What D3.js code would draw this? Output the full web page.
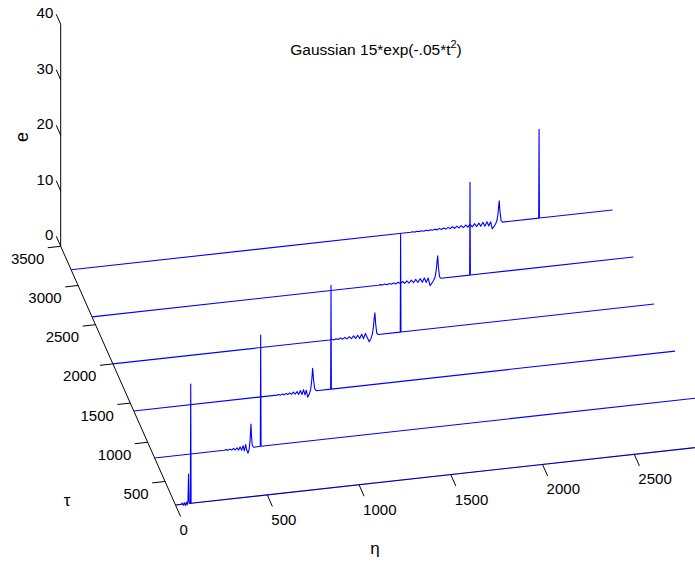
<!DOCTYPE html>
<html>
<head>
<meta charset="utf-8">
<script src="https://cdn.jsdelivr.net/npm/d3@7"></script>
<style>
  html, body { margin: 0; padding: 0; background: #fff; }
  text { font-family: "Liberation Sans", Arial, Helvetica, sans-serif; fill: #000; }
</style>
</head>
<body>
<svg id="chart" width="695" height="561"></svg>
<script>
// ---------------- data ----------------
const tauValues = [200, 800, 1400, 2000, 2600, 3200];
const etaTicks = [0, 500, 1000, 1500, 2000, 2500];
const tauTicks = [500, 1000, 1500, 2000, 2500, 3000, 3500];
const eTicks = [0, 10, 20, 30, 40];
const titleMain = "Gaussian 15*exp(-.05*t";
const titleSup = "2";
const titleEnd = ")";

const eta200 = [0, 30, 36, 42, 48, 54, 60, 64, 68, 71, 74, 78, 81, 83, 85, 2950];
const e200   = [0, 0, 0.2, -0.2, 0.25, -0.3, 0.3, -0.2, 0.5, 5.3, 0.3, 0, 0, 21.5, 0, 0];

const eta800 = [0, 380, 390, 400, 410, 420, 430, 440, 449, 458, 466, 474, 482, 489, 496, 502, 509, 515, 520, 523, 525, 528, 532, 540, 576, 578, 580, 2950];
const e800   = [0, 0, 0.08, -0.08, 0.1, -0.12, 0.15, -0.18, 0.2, -0.25, 0.3, -0.35, 0.45, -0.5, 0.6, -0.4, -1.0, -0.3, 1.2, 3.0, 4.2, 2.0, 0.3, -0.05, 0, 20.05, 0, 0];

const eta1400 = [0, 780, 790, 800, 810, 820, 830, 840, 850, 860, 870, 880, 890, 899, 908, 917, 925, 933, 940, 948, 956, 964, 970, 975, 980, 986, 995, 1073, 1075, 1077, 2950];
const e1400   = [0, 0, 0.08, -0.08, 0.1, -0.1, 0.12, -0.12, 0.15, -0.15, 0.2, -0.2, 0.25, -0.3, 0.35, -0.4, 0.45, -0.5, 0.3, -1.0, -0.5, 0.3, 2.0, 4.1, 2.0, 0.4, 0, 0, 18.7, 0, 0];

const eta2000 = [0, 1180, 1192, 1204, 1216, 1228, 1240, 1252, 1264, 1276, 1288, 1300, 1312, 1323, 1334, 1345, 1356, 1366, 1376, 1386, 1397, 1406, 1414, 1420, 1424, 1428, 1432, 1438, 1446, 1566, 1568, 1570, 2950];
const e2000   = [0, 0, 0.08, -0.08, 0.1, -0.1, 0.12, -0.12, 0.15, -0.15, 0.2, -0.2, 0.25, -0.25, 0.3, -0.35, 0.4, -0.45, 0.45, -0.3, -1.1, -0.6, 0.2, 1.5, 3.0, 4.0, 2.0, 0.3, 0, 0, 17.6, 0, 0];

const eta2600 = [0, 1560, 1572, 1584, 1596, 1608, 1620, 1632, 1644, 1656, 1668, 1680, 1692, 1704, 1716, 1728, 1740, 1752, 1764, 1776, 1788, 1800, 1811, 1822, 1832, 1842, 1852, 1862, 1870, 1876, 1880, 1884, 1888, 1894, 1902, 2058, 2060, 2062, 2950];
const e2600   = [0, 0, 0.06, -0.06, 0.08, -0.08, 0.1, -0.1, 0.12, -0.12, 0.15, -0.15, 0.18, -0.18, 0.22, -0.22, 0.26, -0.26, 0.3, -0.3, 0.35, -0.35, 0.4, -0.45, 0.3, -1.1, -0.7, -0.2, 0.4, 1.6, 3.0, 4.1, 2.0, 0.3, 0, 0, 16.7, 0, 0];

const eta3200 = [0, 1850, 1862, 1874, 1886, 1898, 1910, 1922, 1934, 1946, 1958, 1970, 1982, 1994, 2006, 2018, 2030, 2042, 2054, 2066, 2078, 2090, 2102, 2114, 2126, 2138, 2150, 2162, 2174, 2186, 2198, 2210, 2222, 2233, 2244, 2255, 2266, 2276, 2286, 2295, 2305, 2314, 2321, 2326, 2330, 2333, 2337, 2343, 2352, 2548, 2550, 2552, 2950];
const e3200   = [0, 0, 0.05, -0.05, 0.05, -0.05, 0.06, -0.06, 0.07, -0.07, 0.08, -0.08, 0.09, -0.09, 0.1, -0.1, 0.12, -0.12, 0.14, -0.14, 0.16, -0.16, 0.18, -0.18, 0.2, -0.2, 0.22, -0.22, 0.25, -0.25, 0.28, -0.28, 0.3, -0.32, 0.35, -0.38, 0.4, -0.42, 0.3, -1.0, -0.6, -0.1, 0.5, 1.5, 3.0, 3.9, 2.0, 0.3, 0, 0, 16.0, 0, 0];

const seriesEta = [eta200, eta800, eta1400, eta2000, eta2600, eta3200];
const seriesE = [e200, e800, e1400, e2000, e2600, e3200];

// ---------------- projection (orthographic 3-D view) ----------------
const X0 = 175.5, Y0 = 505;
const tauMin = 200, tauMax = 3500, etaMax = 2950;
const etaX = d3.scaleLinear().domain([0, 2500]).range([0, 458.75]);
const etaY = d3.scaleLinear().domain([0, 2500]).range([0, -50.7]);
const tauX = d3.scaleLinear().domain([tauMin, tauMax]).range([0, -114.8]);
const tauY = d3.scaleLinear().domain([tauMin, tauMax]).range([0, -258.7]);
const eY = d3.scaleLinear().domain([0, 40]).range([0, -222]);

function P(eta, tau, e) {
  return [X0 + etaX(eta) + tauX(tau), Y0 + etaY(eta) + tauY(tau) + eY(e)];
}

const svg = d3.select("#chart");
const gAxes = svg.append("g");
const gData = svg.append("g");
const gText = svg.append("g");

function unit(dx, dy) { const l = Math.hypot(dx, dy); return [dx / l, dy / l]; }
const dirTau = unit(tauX(tauMax) - tauX(tauMin), tauY(tauMax) - tauY(tauMin));
const dirEta = unit(etaX(2500), etaY(2500));

// ---------------- axes ----------------
const ta0 = P(0, tauMin, 0), ta1 = P(0, tauMax, 0);
gAxes.append("line").attr("x1", ta0[0]).attr("y1", ta0[1]).attr("x2", ta1[0]).attr("y2", ta1[1])
  .attr("stroke", "#000").attr("stroke-width", 1);
const ea1 = P(0, tauMax, 40);
gAxes.append("line").attr("x1", ta1[0]).attr("y1", ta1[1]).attr("x2", ea1[0]).attr("y2", ea1[1])
  .attr("stroke", "#000").attr("stroke-width", 1);

tauTicks.forEach(t => {
  const p = P(0, t, 0);
  const q = [p[0] - dirEta[0] * 13, p[1] - dirEta[1] * 13];
  gAxes.append("line").attr("x1", p[0]).attr("y1", p[1]).attr("x2", q[0]).attr("y2", q[1])
    .attr("stroke", "#000").attr("stroke-width", 1);
  gText.append("text").attr("x", q[0] - 3.5).attr("y", q[1] + 10.5)
    .attr("text-anchor", "end").attr("dominant-baseline", "central")
    .attr("font-size", 15).text(t);
});

eTicks.forEach(v => {
  const p = P(0, tauMax, v);
  const q = [p[0] + dirTau[0] * 11, p[1] + dirTau[1] * 11];
  gAxes.append("line").attr("x1", p[0]).attr("y1", p[1]).attr("x2", q[0]).attr("y2", q[1])
    .attr("stroke", "#000").attr("stroke-width", 1);
  gText.append("text").attr("x", q[0] - 3).attr("y", q[1] - 1.5)
    .attr("text-anchor", "end").attr("dominant-baseline", "central")
    .attr("font-size", 15).text(v);
});

etaTicks.forEach(v => {
  const p = P(v, tauMin, 0);
  const q = [p[0] - dirTau[0] * 12.6, p[1] - dirTau[1] * 12.6];
  gAxes.append("line").attr("x1", p[0]).attr("y1", p[1]).attr("x2", q[0]).attr("y2", q[1])
    .attr("stroke", "#000").attr("stroke-width", 1);
  gText.append("text").attr("x", q[0] - 1).attr("y", q[1] + 13)
    .attr("text-anchor", "start").attr("dominant-baseline", "central")
    .attr("font-size", 15).text(v);
});

// ---------------- waterfall lines ----------------
const lineGen = d3.line()
  .x(d => P(d[0], d[2], d[1])[0])
  .y(d => P(d[0], d[2], d[1])[1]);

tauValues.forEach((tau, i) => {
  const pts = d3.zip(seriesEta[i], seriesE[i]).map(d => [d[0], d[1], tau]);
  gData.append("path").attr("d", lineGen(pts))
    .attr("fill", "none").attr("stroke", "#0000ff").attr("stroke-width", 1.1)
    .attr("stroke-linejoin", "round");
});

const xa0 = P(0, tauMin, 0), xa1 = P(etaMax, tauMin, 0);
gData.append("line").attr("x1", xa0[0]).attr("y1", xa0[1]).attr("x2", xa1[0]).attr("y2", xa1[1])
  .attr("stroke", "#000").attr("stroke-opacity", 0.35).attr("stroke-width", 1);

// ---------------- labels ----------------
gText.append("text").attr("x", 67).attr("y", 500)
  .attr("text-anchor", "middle").attr("dominant-baseline", "central")
  .attr("font-size", 17).text("τ");
gText.append("text").attr("x", 375).attr("y", 548)
  .attr("text-anchor", "middle").attr("dominant-baseline", "central")
  .attr("font-size", 17).text("η");
gText.append("text").attr("transform", "translate(22,137) rotate(-90)")
  .attr("text-anchor", "middle").attr("dominant-baseline", "central")
  .attr("font-size", 18).text("e");

const title = gText.append("text").attr("x", 376).attr("y", 55)
  .attr("text-anchor", "middle").attr("font-size", 15.5);
title.append("tspan").text(titleMain);
title.append("tspan").attr("dy", -7).attr("font-size", 11).text(titleSup);
title.append("tspan").attr("dy", 7).text(titleEnd);
</script>
</body>
</html>
